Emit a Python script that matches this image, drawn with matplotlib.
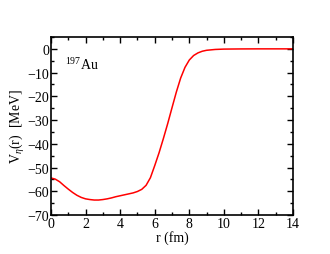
import matplotlib
matplotlib.use('Agg')
import matplotlib.pyplot as plt
from matplotlib.ticker import MultipleLocator

plt.rcParams['font.family'] = ['Liberation Serif', 'DejaVu Serif']
plt.rcParams['mathtext.fontset'] = 'custom'
plt.rcParams['mathtext.rm'] = 'Liberation Serif'
plt.rcParams['mathtext.it'] = 'Liberation Serif:italic'

# potential
r = [0, 0.25, 0.5, 0.75, 1.0, 1.25, 1.5, 1.75, 2.0, 2.25, 2.5, 2.75, 3.0,
     3.25, 3.5, 3.75, 4.0, 4.25, 4.5, 4.75, 5.0, 5.25, 5.5, 5.75, 6.0,
     6.25, 6.5, 6.75, 7.0, 7.25, 7.5, 7.75, 8.0, 8.25, 8.5, 8.75, 9.0,
     9.5, 10, 11, 12, 13, 14]
v = [-54.4, -54.9, -56.0, -57.6, -59.1, -60.5, -61.7, -62.6, -63.2, -63.5,
     -63.7, -63.7, -63.5, -63.2, -62.8, -62.3, -61.9, -61.5, -61.1, -60.7,
     -60.1, -59.2, -57.5, -54.3, -49.2, -43.8, -37.8, -31.5, -24.8, -18.2,
     -12.3, -7.8, -4.7, -2.8, -1.7, -1.0, -0.6, -0.25, -0.1, -0.03, 0, 0, 0]

fig = plt.figure(figsize=(3.3, 2.55), dpi=100)
ax = fig.add_axes([0.1545, 0.153, 0.7335, 0.698])

ax.plot(r, v, color='red', lw=1.1)

ax.set_xlim(0, 14)
ax.set_ylim(-70, 5)
ax.xaxis.set_major_locator(MultipleLocator(2))
ax.xaxis.set_minor_locator(MultipleLocator(1))
ax.yaxis.set_major_locator(MultipleLocator(10))
ax.yaxis.set_minor_locator(MultipleLocator(5))
ax.tick_params(which='both', direction='in', top=True, right=True, width=1.0, labelsize=10, pad=1.5)
ax.tick_params(which='major', length=4)
ax.tick_params(which='minor', length=2.5)
for s in ax.spines.values():
    s.set_linewidth(1.2)

ax.set_xlabel('r (fm)', fontsize=10, labelpad=0)
ax.set_ylabel(r'V$_\eta$(r)  [MeV]', fontsize=10, labelpad=0)
ax.text(0.8, -8.5, r'$^{197}$Au', fontsize=10)

fig.savefig('out.png', dpi=100)
